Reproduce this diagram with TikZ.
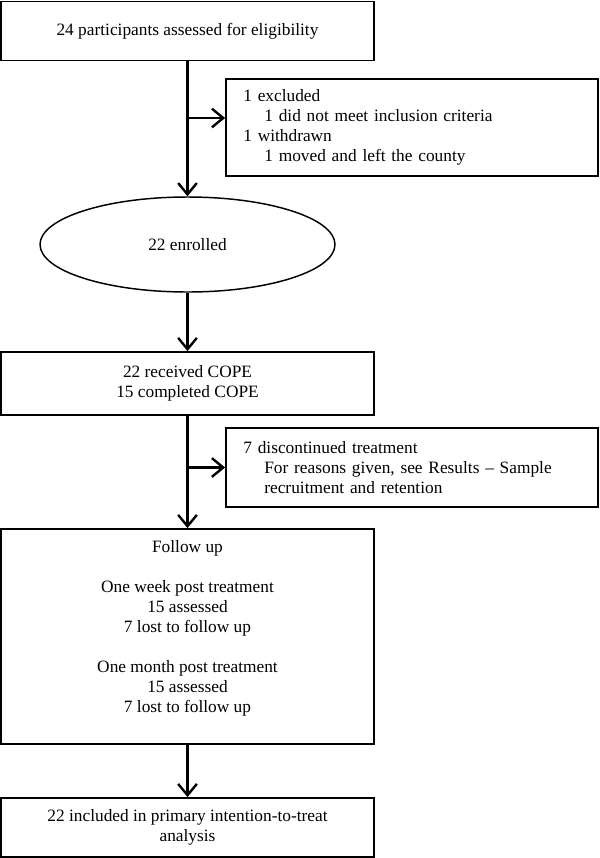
\documentclass[tikz,border=0pt]{standalone}
\usepackage{fontspec}
\setmainfont{Liberation Serif}
\usepackage{tikz}
\usetikzlibrary{shapes.geometric,arrows.meta,positioning}
\tikzstyle{box}=[draw, line width=1.3pt, rectangle, minimum width=279.75pt, inner sep=2pt, align=center, font=\fontsize{13}{15}\selectfont]
\tikzstyle{sidebox}=[draw, line width=1.3pt, rectangle, text width=253pt, inner xsep=13pt, align=left, font=\fontsize{13}{15}\selectfont]
\tikzstyle{flow}=[line width=1.8pt, -{Straight Barb[length=8.5pt,width=14pt]}]
\newcommand{\ind}{\hspace*{15.75pt}}

\begin{document}
\begin{tikzpicture}[x=0.75pt,y=-0.75pt]

\useasboundingbox (0,0) rectangle (600,858);

% boxes
\node[box, minimum height=44.25pt] (assess) at (187.5,31) {24 participants assessed for eligibility};
\node[sidebox, minimum height=72.75pt] (excl) at (412,127.5) {1 excluded\\ \ind 1 did not meet inclusion criteria\\ 1 withdrawn\\ \ind 1 moved and left the county};
\node[draw, ellipse, line width=1.1pt, minimum width=221.25pt, minimum height=71.25pt, font=\fontsize{13}{15}\selectfont] (enrol) at (187.5,244.5) {22 enrolled};
\node[box, minimum height=47.25pt] (cope) at (187.5,383.5) {22 received COPE\\ 15 completed COPE};
\node[sidebox, minimum height=59.25pt] (disc) at (412,467.5) {7 discontinued treatment\\ \ind For reasons given, see Results -- Sample\\ \ind recruitment and retention};
\node[box, minimum height=161.25pt, text depth=15pt] (follow) at (187.5,636.5) {Follow up\\[15pt] One week post treatment\\ 15 assessed\\ 7 lost to follow up\\[15pt] One month post treatment\\ 15 assessed\\ 7 lost to follow up};
\node[box, minimum height=44.25pt] (itt) at (187.5,827.5) {22 included in primary intention-to-treat\\ analysis};

% main flow
\draw[flow] (assess) -- (enrol);
\draw[flow] (enrol) -- (cope);
\draw[flow] (cope) -- (follow);
\draw[flow] (follow) -- (itt);

% side arrows
\coordinate (b1) at (187.5,118);
\draw[flow] (b1) -- (b1 -| excl.west);
\coordinate (b2) at (187.5,467.5);
\draw[flow] (b2) -- (disc.west);

\end{tikzpicture}
\end{document}
